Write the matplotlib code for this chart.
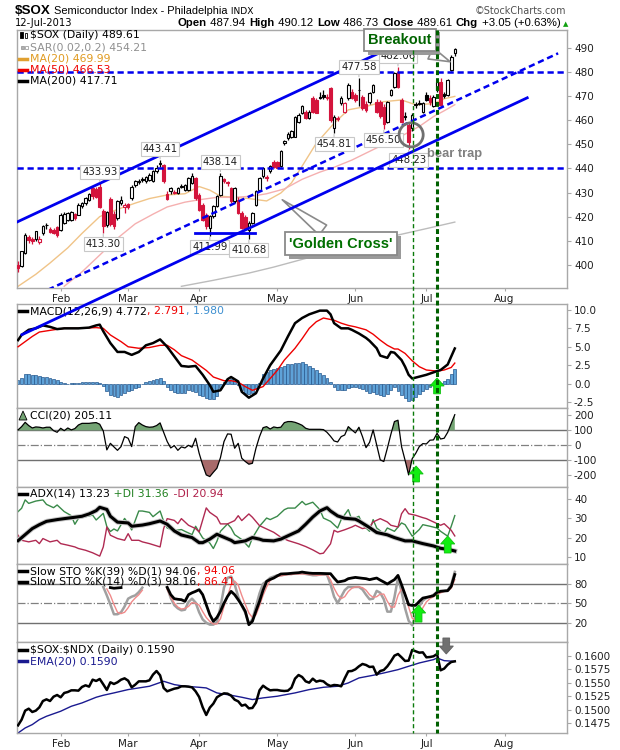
import numpy as np
import matplotlib
matplotlib.use("Agg")
import matplotlib.pyplot as plt
import matplotlib.transforms as mtransforms
import matplotlib.patheffects as pe
from matplotlib.patches import Ellipse, FancyArrow, Rectangle, Polygon
from matplotlib.lines import Line2D

plt.rcParams['font.family'] = ['DejaVu Sans']
nan = float('nan')

# ---------------- data (trading-day index 0 = 15-Jan-2013, 123 = 12-Jul-2013) ----------------
month_labels = ["Feb", "Mar", "Apr", "May", "Jun", "Jul", "Aug"]
month_days = [12, 31, 51, 73, 95, 115, 137]

opens = [400.0, 399.5, 405.0, 411.5, 410.8, 410.5, 409.5, 413.0, 416.3, 415.0,
         414.5, 415.5, 414.5, 417.5, 418.5, 418.5, 421.0, 420.8, 424.2, 425.6,
         427.0, 432.0, 431.5, 432.5, 422.2, 416.5, 427.5, 421.0, 419.4, 425.6,
         424.0, 425.2, 427.7, 433.2, 434.4, 435.5, 434.6, 435.3, 434.9, 438.8,
         442.0, 441.5, 429.5, 430.5, 430.2, 430.0, 432.3, 431.0, 431.2, 434.0,
         436.0, 429.0, 424.9, 420.8, 415.2, 420.1, 424.2, 429.0, 435.6, 434.2,
         431.9, 426.3, 427.0, 421.5, 420.0, 414.5, 417.3, 424.9, 431.2, 436.7,
         436.5, 438.8, 442.5, 442.5, 440.9, 450.5, 452.5, 453.0, 453.3, 459.5,
         463.0, 463.7, 461.0, 469.2, 468.5, 469.8, 470.5, 469.8, 473.4, 456.8,
         461.2, 467.1, 463.7, 469.2, 472.0, 470.6, 472.5, 469.9, 467.0, 467.8,
         472.0, 467.8, 467.8, 465.5, 459.5, 470.6, 474.0, 480.3, 468.5, 461.8,
         458.1, 456.8, 466.8, 467.3, 463.7, 470.5, 469.5, 465.8, 472.7, 476.1,
         470.8, 470.6, 481.0, 487.94]
highs = [401.5, 405.8, 413.0, 412.5, 411.5, 414.2, 412.0, 416.5, 417.2, 415.8,
         415.2, 416.0, 421.5, 421.8, 422.0, 422.2, 421.5, 425.5, 426.2, 428.2,
         429.8, 432.5, 432.2, 433.93, 423.0, 422.5, 428.0, 422.5, 426.8, 428.5,
         425.8, 425.8, 433.0, 435.2, 435.5, 436.5, 437.0, 438.0, 439.2, 441.5,
         443.41, 442.0, 430.5, 432.5, 431.0, 432.5, 433.5, 433.5, 436.5, 438.0,
         436.5, 430.0, 425.5, 421.5, 420.5, 424.8, 428.8, 438.14, 436.2, 435.0,
         432.5, 432.2, 428.0, 422.5, 420.8, 418.0, 422.0, 431.0, 436.5, 440.8,
         437.5, 441.5, 443.5, 443.2, 447.5, 451.8, 455.0, 456.0, 462.0, 463.0,
         466.5, 464.5, 464.2, 470.0, 469.5, 472.0, 472.5, 471.0, 474.0, 462.2,
         462.0, 470.0, 467.5, 475.5, 473.0, 471.5, 477.58, 470.5, 468.0, 471.8,
         475.2, 469.0, 468.5, 467.0, 468.2, 473.2, 480.0, 482.06, 469.5, 463.5,
         459.0, 463.0, 467.5, 468.5, 467.8, 472.0, 470.5, 470.5, 477.0, 477.6,
         472.0, 477.3, 487.0, 490.12]
lows = [397.0, 399.0, 404.5, 409.0, 408.8, 410.0, 408.5, 412.5, 415.0, 413.0,
        412.8, 411.5, 414.0, 417.0, 418.0, 418.0, 418.5, 420.5, 423.5, 425.0,
        426.5, 427.5, 427.8, 423.5, 413.3, 415.5, 416.0, 415.0, 418.5, 424.8,
        421.5, 423.2, 427.0, 432.5, 433.5, 434.5, 434.0, 434.8, 434.5, 438.0,
        440.5, 434.0, 427.0, 429.5, 429.2, 429.5, 431.8, 430.5, 430.8, 433.5,
        427.0, 422.5, 418.0, 415.0, 411.99, 419.5, 423.8, 428.5, 433.8, 432.8,
        425.8, 425.5, 421.0, 414.8, 414.5, 410.68, 417.0, 424.5, 430.8, 436.2,
        435.0, 438.2, 440.0, 440.2, 440.5, 449.8, 452.0, 452.5, 453.0, 459.0,
        462.5, 460.5, 460.5, 463.0, 463.0, 469.0, 469.0, 468.5, 459.5, 454.81,
        459.8, 466.5, 463.0, 468.5, 468.8, 467.8, 466.0, 464.5, 463.5, 467.0,
        471.5, 463.0, 461.0, 456.5, 459.0, 470.0, 473.5, 473.5, 459.0, 460.0,
        448.23, 455.5, 465.0, 466.5, 463.0, 468.0, 466.5, 465.5, 472.0, 465.8,
        469.5, 470.0, 480.5, 486.73]
closes = [398.8, 405.5, 412.5, 410.2, 409.8, 413.8, 410.8, 416.0, 416.5, 413.5,
          413.2, 412.5, 420.8, 421.0, 421.5, 421.8, 419.4, 425.0, 425.8, 427.7,
          429.2, 428.4, 428.0, 424.0, 415.9, 421.8, 417.0, 416.0, 426.3, 426.8,
          425.0, 424.0, 432.5, 434.6, 434.8, 435.3, 436.4, 437.4, 438.8, 440.2,
          442.2, 434.6, 427.5, 432.0, 430.0, 432.0, 432.5, 433.0, 436.0, 436.7,
          427.7, 422.9, 418.7, 415.9, 420.1, 424.2, 428.4, 436.9, 434.6, 433.9,
          426.3, 431.9, 421.5, 415.2, 414.8, 417.5, 421.5, 430.5, 436.0, 440.2,
          436.0, 440.9, 440.5, 440.4, 447.1, 451.5, 454.5, 455.5, 461.6, 462.3,
          465.8, 460.9, 463.7, 463.5, 463.2, 469.5, 469.6, 469.2, 460.2, 461.6,
          460.5, 469.2, 467.1, 474.8, 469.2, 468.5, 472.7, 465.1, 464.5, 471.3,
          474.8, 463.7, 462.0, 458.5, 467.8, 472.7, 479.6, 474.1, 459.5, 461.3,
          451.0, 462.3, 466.3, 466.8, 467.1, 468.5, 467.5, 469.9, 476.1, 466.5,
          470.1, 476.8, 486.56, 489.61]

ma20_days = [0, 5, 9, 14, 18, 23, 28, 33, 37, 42, 47, 51, 54, 57, 61, 65, 70, 74, 77, 80,
             84, 89, 93, 98, 103, 108, 112, 117, 120, 123]
ma20_vals = [391, 396, 400.7, 407, 413, 420, 423, 425.6, 427.5, 429, 429.5, 432.5, 431, 428.5,
             428.0, 427.5, 426.5, 429.8, 434, 441, 450.5, 458.8, 464.4, 465.8, 467.8, 468.5,
             466.5, 467, 469, 469.99]
ma50_days = [13, 18, 23, 28, 33, 38, 42, 47, 51, 56, 61, 66, 70, 75, 80, 85, 89, 94, 98, 103,
             108, 113, 117, 120, 123]
ma50_vals = [391, 397, 404, 411, 417, 421, 424, 426, 427, 428, 428.0, 428.5, 429.5, 431.5,
             435.5, 438.5, 440.5, 443.5, 446.4, 450, 453.5, 457.5, 461.6, 464, 466.53]
ma200_days = [46, 55, 65, 72, 80, 90, 100, 106, 115, 123]
ma200_vals = [391, 393.5, 396.5, 399, 402.2, 406, 410, 412, 415, 417.71]

# drawn trendlines (day, price) endpoints
upper_channel = [(-5.0, 414.5), (115.0, 497.2)]
lower_channel = [(1.1, 370.9), (143.4, 469.4)]
mid_channel = [(8.45, 389.6), (152.1, 487.9)]
support_line = [(49.9, 413.1), (66.8, 413.1)]
levels = [480, 440]
marker_days = [111.2, 118.1]

high_marks = [23, 40, 57, 96, 107]
low_marks = [24, 54, 65, 89, 103, 110]

macd_days = [0, 1, 3, 5, 7, 9, 11, 13, 15, 17, 20, 22, 23, 24, 26, 28, 30, 32, 34, 36,
             38, 40, 42, 44, 46, 48, 50, 52, 54, 55, 57, 59, 60, 62, 63, 65, 67, 69, 71, 74,
             76, 78, 80, 82, 85, 87, 88, 89, 91, 93, 94, 96, 98, 99, 101, 102, 104, 105, 106, 108,
             109, 110, 111, 113, 115, 118, 119, 121, 123]
macd_vals = [5.9, 6.6, 7.3, 7.5, 7.9, 7.7, 7.4, 7.5, 7.5, 7.5, 7.6, 7.9, 8.0, 7.1, 5.5, 4.3, 4.3, 3.9, 4.3, 5.2,
             5.5, 6.0, 5.0, 3.7, 2.4, 2.3, 2.4, 1.2, -0.2, -1.1, -0.9, 0.6, 0.9, 0.3, -1.1, -1.9, -1.3, 0.7, 2.5, 4.5,
             6.4, 8.2, 8.9, 9.4, 9.9, 9.9, 9.4, 8.2, 7.5, 7.5, 7.3, 6.8, 6.2, 5.8, 4.8, 3.8, 3.5, 4.3, 4.2, 3.2,
             2.3, 1.2, 0.7, 0.95, 1.2, 1.7, 1.85, 2.6, 4.772]
signal_days = [0, 2, 4, 6, 10, 13, 17, 22, 24, 26, 29, 31, 34, 37, 40, 42, 44, 46, 49, 51,
               53, 55, 58, 60, 62, 64, 66, 69, 71, 73, 75, 78, 80, 82, 84, 86, 89, 91, 93, 95,
               98, 100, 102, 104, 106, 107, 109, 111, 113, 115, 118, 120, 122, 123]
signal_vals = [5.0, 5.7, 6.4, 7.0, 7.3, 7.5, 7.5, 7.6, 7.5, 6.6, 5.7, 5.0, 4.8, 4.9, 5.2, 5.2, 4.6, 3.8, 3.2, 2.5,
               1.8, 0.9, 0.4, 0.4, 0.2, -0.4, -0.9, -0.4, 0.7, 1.8, 3.2, 4.8, 6.1, 7.5, 8.4, 8.9, 8.6, 8.2, 7.9, 7.7,
               7.3, 6.7, 5.9, 5.2, 4.7, 4.7, 4.1, 3.1, 2.3, 1.85, 1.7, 1.85, 2.2, 2.791]
macd_hist = [0.5, 0.8, 1.3, 1.25, 1.2, 1.15, 1.05, 0.95, 0.85, 0.7,
             0.6, 0.45, 0.25, 0.1, 0.0, 0.03, 0.08, 0.12, 0.17, 0.2,
             0.25, 0.27, 0.27, 0.1, -0.3, -1.0, -1.5, -1.65, -1.75, -1.55,
             -1.3, -1.05, -0.8, -0.6, -0.4, -0.05, 0.2, 0.33, 0.48, 0.62,
             0.72, 0.3, -0.5, -0.9, -1.1, -1.25, -1.3, -1.2, -0.9, -0.95,
             -1.1, -1.5, -1.7, -1.9, -2.05, -2.1, -1.7, -0.6, 0.25, 0.5,
             0.6, 0.4, -0.2, -0.8, -1.2, -1.45, -1.3, -0.65, 0.1, 1.3,
             1.6, 1.8, 2.0, 2.15, 2.25, 2.35, 2.6, 2.6, 2.75, 2.8,
             2.9, 2.6, 2.35, 2.1, 1.8, 1.5, 1.15, 0.75, 0.25, -0.5,
             -0.8, -0.85, -0.8, -0.65, -0.5, -0.42, -0.55, -0.7, -1.05, -1.25,
             -1.15, -1.35, -1.6, -1.65, -1.4, -0.8, -0.45, -1.05, -1.5, -1.95,
             -2.3, -2.2, -1.8, -1.4, -1.05, -0.75, -0.4, -0.12, 0.03, 0.15,
             0.3, 0.6, 1.3, 1.98]

cci = [103, 125, 154, 132, 116, 123, 121, 116, 121, 121,
       98, 87, 114, 98, 116, 103, 112, 136, 147, 147,
       147, 150, 152, 141, 96, -31, 13, -11, -34, -9,
       58, 47, -9, 125, 152, 136, 125, 121, 123, 132,
       150, 87, 25, -18, -2, -34, -11, -18, 0, -13,
       47, -54, -132, -199, -210, -181, -154, -83, 25, 76,
       74, -20, 13, -87, -109, -127, -121, -20, 58, 118,
       125, 109, 123, 118, 121, 152, 159, 159, 154, 145,
       134, 114, 107, 107, 107, 107, 105, 87, 60, 29,
       22, 58, 69, 125, 103, 83, 121, 58, -16, 20,
       103, 2, -98, -109, -20, 74, 159, 168, -9, -101,
       -199, -90, -54, -9, 11, 9, 34, 36, 80, 42,
       47, 87, 147, 205.11]

adx_days = [0, 2, 4, 6, 8, 11, 13, 16, 18, 20, 22, 23, 25, 26, 28, 31, 32, 35, 37, 40,
            42, 44, 46, 49, 51, 52, 54, 56, 57, 60, 61, 64, 66, 68, 69, 72, 74, 76, 79, 81,
            83, 85, 87, 88, 90, 92, 95, 96, 99, 101, 104, 106, 109, 111, 114, 117, 119, 121, 123]
adx_vals = [18.5, 21.6, 24.7, 26.7, 28.4, 29.3, 29.8, 30.5, 31.0, 32.2, 33.9, 35.6, 34.5, 31.0, 28.0, 27.6, 25.9, 26.5, 27.2, 28.6,
            26.9, 23.5, 21.4, 20.1, 17.5, 17.5, 19.3, 21.8, 21.0, 18.7, 17.5, 18.4, 20.1, 19.3, 18.7, 18.4, 19.3, 21.0, 23.5, 26.9,
            30.6, 33.7, 35.4, 33.7, 31.2, 30.0, 29.5, 28.6, 25.2, 22.7, 21.5, 20.1, 18.4, 18.4, 17.0, 15.8, 14.6, 14.1, 13.23]
pdi_days = [0, 1, 2, 3, 5, 7, 8, 10, 11, 13, 15, 16, 17, 19, 21, 22, 24, 25, 26, 27,
            28, 30, 31, 32, 34, 35, 37, 38, 40, 41, 42, 44, 46, 47, 49, 50, 52, 54, 55, 56,
            57, 59, 60, 61, 63, 65, 66, 68, 70, 71, 73, 75, 76, 78, 80, 81, 83, 85, 86, 88,
            90, 91, 93, 94, 96, 97, 99, 100, 101, 103, 104, 106, 108, 109, 111, 113, 114, 116, 118, 119,
            121, 122, 123]
pdi_vals = [33.4, 35.1, 39.4, 37.6, 38.8, 39.4, 37.1, 35.4, 36.8, 33.4, 31.3, 26.9, 29.9, 30.8, 31.6, 29.1, 32.5, 25.7, 23.2, 24.5,
            23.5, 29.9, 27.4, 24.0, 33.7, 33.7, 33.0, 30.8, 33.7, 28.4, 25.0, 23.7, 24.2, 23.3, 21.6, 25.9, 19.9, 17.3, 14.5, 18.2,
            23.3, 27.1, 25.0, 21.6, 19.1, 15.2, 19.9, 25.9, 30.1, 29.3, 31.0, 34.4, 35.2, 35.2, 38.6, 36.9, 38.2, 34.4, 30.1, 28.4,
            25.0, 29.3, 34.4, 29.3, 31.0, 26.7, 23.3, 29.3, 25.0, 22.1, 25.0, 23.3, 27.6, 26.7, 20.8, 24.2, 26.7, 25.9, 25.0, 23.3,
            20.8, 25.9, 31.36]
mdi_days = [0, 1, 3, 5, 6, 7, 9, 11, 12, 14, 16, 17, 19, 21, 23, 24, 25, 26, 28, 30,
            31, 32, 34, 35, 37, 40, 41, 42, 44, 45, 46, 48, 50, 51, 53, 54, 56, 57, 59, 61,
            62, 63, 65, 66, 68, 70, 72, 74, 76, 79, 81, 83, 85, 86, 88, 89, 90, 92, 94, 95,
            97, 99, 100, 102, 104, 105, 107, 108, 109, 110, 112, 114, 115, 117, 119, 120, 122, 123]
mdi_vals = [21.3, 18.7, 17.9, 18.7, 17.0, 19.6, 17.9, 18.7, 17.0, 16.2, 15.3, 14.5, 13.6, 12.3, 10.6, 15.3, 25.5, 21.3, 19.6, 18.7,
            22.1, 18.7, 18.7, 17.9, 17.0, 15.3, 24.7, 29.8, 28.9, 27.2, 29.8, 26.4, 24.7, 23.0, 35.3, 33.0, 30.5, 27.1, 27.1, 28.8,
            31.3, 28.8, 32.2, 30.5, 26.2, 24.5, 22.8, 20.3, 18.6, 16.9, 15.5, 13.8, 11.8, 12.1, 16.9, 23.8, 22.9, 24.1, 25.5, 26.4,
            24.7, 25.5, 28.1, 29.8, 28.1, 26.4, 25.5, 32.3, 34.9, 32.3, 31.5, 30.3, 29.8, 28.1, 26.4, 27.2, 23.8, 20.94]

# stochastics, nan where the line is hidden behind the legend
sto39 = ([nan] * 26 + [74, 73, 73.5, 74] + [nan] * 12 +
         [74.4, 63.1, 56.9, 56, 55.4, 52.8, 63.1, 66, 68.2, 70.8,
          63.1, 47.7, 32.3, 22.1, 28, 37.4, 50, 60.5, 68.2, 63.1,
          55.4, 47, 37.4, 16.9, 22.1, 38, 52.8, 70, 83.6, 86.5,
          88.7, 92, 94.9, 95.2, 95.4, 96, 96.5, 96.9, 97.9, 97,
          96.3, 95.9, 95.9, 95.9, 95.7, 95.5, 95.4, 88.7, 82.6, 83.5,
          84.6, 87.7, 88.8, 89.7, 89, 88.3, 87.7, 86.2, 87.5, 88.7,
          85.5, 82.6, 79.5, 83, 86.2, 92.8, 78.5, 63.1, 47.7, 46.5,
          46.7, 52.8, 57.9, 59.0, 60.2, 61.5, 66.7, 68.2, 68.8, 69.2,
          75.9, 94.06])
sto14k = ([nan] * 24 + [75, 62, 48, 33, 33, 36, 45, 57, 60, 62, 67, 74] + [nan] * 6 +
          [74, 58, 47, 42, 39, 40, 52, 57, 51, 36,
           25, 20, 17, 17, 21, 44, 74, 89, 91, 79,
           60, 46, 35, 19, 25, 45, 65, 80, 84, 89,
           91, 93, 93, 94, 95, 95, 96, 96, 96, 95,
           94, 93, 93, 94, 94, 94, 79, 60, 50, 60,
           70, 75, 75, 75, 75, 71, 63, 56, 57, 69,
           66, 56, 37, 37, 59, 89, 68, 42, 23, 16,
           31, 45, 54, 58, 60, 63, 67, 69, 69, 70,
           79, 98.16])
sto14d = ([nan] * 25 + [72, 62, 48, 36, 34, 36, 43, 52, 58, 63, 70] + [nan] * 6 +
          [71, 60, 50, 44, 41, 42, 45, 51, 50, 47,
           37, 28, 22, 18, 18, 26, 45, 61, 78, 84,
           78, 62, 48, 35, 28, 32, 46, 62, 75, 85,
           89, 91, 92, 93, 94, 94, 95, 95, 95, 95,
           94, 94, 93, 93, 94, 94, 86, 73, 63, 57,
           60, 68, 73, 75, 75, 74, 70, 63, 59, 60,
           64, 64, 53, 44, 44, 62, 72, 66, 44, 27,
           23, 31, 43, 52, 57, 60, 63, 66, 68, 69,
           73, 86.41])

ratio = [0.14706, 0.14812, 0.14980, 0.15017, 0.14955, 0.14980, 0.15042, 0.15160, 0.15191, 0.15160,
         0.15241, 0.15272, 0.15229, 0.15310, 0.15328, 0.15359, 0.15359, 0.15353, 0.15422, 0.15453,
         0.15428, 0.15558, 0.15534, 0.15571, 0.15471, 0.15366, 0.15509, 0.15478, 0.15509, 0.15558,
         0.15583, 0.15540, 0.15415, 0.15465, 0.15527, 0.15527, 0.15527, 0.15546, 0.15652, 0.15720,
         0.15639, 0.15403, 0.15341, 0.15366, 0.15390, 0.15403, 0.15434, 0.15434, 0.15428, 0.15415,
         0.15341, 0.15235, 0.15042, 0.14899, 0.15036, 0.15111, 0.15229, 0.15272, 0.15303, 0.15297,
         0.15260, 0.15185, 0.15154, 0.15073, 0.15092, 0.15023, 0.15030, 0.15129, 0.15359, 0.15446,
         0.15397, 0.15359, 0.15366, 0.15366, 0.15353, 0.15347, 0.15353, 0.15409, 0.15577, 0.15645,
         0.15608, 0.15527, 0.15502, 0.15577, 0.15521, 0.15540, 0.15527, 0.15471, 0.15440, 0.15459,
         0.15453, 0.15434, 0.15583, 0.15714, 0.15720, 0.15751, 0.15807, 0.15851, 0.15832, 0.15795,
         0.15801, 0.15652, 0.15720, 0.15739, 0.15807, 0.15900, 0.16006, 0.16037, 0.15975, 0.15907,
         0.15913, 0.16112, 0.16087, 0.16062, 0.16068, 0.15975, 0.15981, 0.15994, 0.16037, 0.15733,
         0.15764, 0.15838, 0.15888, 0.15900]
ema_days = [0, 2, 4, 6, 8, 12, 15, 18, 22, 24, 27, 31, 34, 37, 41, 44, 47, 51, 53, 56,
            60, 63, 66, 69, 73, 78, 82, 86, 90, 93, 96, 100, 103, 107, 110, 113, 117, 118, 120, 123]
ema_vals = [0.14563, 0.14657, 0.14720, 0.14813, 0.14875, 0.14969, 0.15062, 0.15124, 0.15230, 0.15267,
            0.15311, 0.15373, 0.15404, 0.15435, 0.15528, 0.15466, 0.15435, 0.15416, 0.15404, 0.15311,
            0.15267, 0.15230, 0.15187, 0.15218, 0.15249, 0.15311, 0.15373, 0.15416, 0.15435, 0.15497,
            0.15590, 0.15640, 0.15683, 0.15745, 0.15808, 0.15870, 0.15932, 0.15963, 0.15913, 0.15900]

# ---------------- figure ----------------
W, H = 620, 750
fig = plt.figure(figsize=(W / 100, H / 100), dpi=100)
fig.patch.set_facecolor('white')
PX = mtransforms.Affine2D().scale(1, -1).translate(0, H)   # pixels from top-left

BLUE = '#0000ee'
RED = '#d4143c'
GRID = '#a8a8a8'
TICK = 7.5
LEG = 7.8


def panel(top, bottom, ylim, yticks, fmt):
    ax = fig.add_axes([17 / W, 1 - bottom / H, 550 / W, (bottom - top) / H])
    ax.set_xlim(-0.3, 154.6)
    ax.set_ylim(*ylim)
    for s in ax.spines.values():
        s.set_color(GRID)
        s.set_linewidth(1)
    ax.yaxis.tick_right()
    ax.set_yticks(yticks)
    ax.set_yticklabels([fmt % v for v in yticks])
    ax.tick_params(axis='y', labelsize=TICK, length=3, color=GRID, pad=2, labelcolor='#202020')
    ax.set_xticks(month_days)
    ax.tick_params(axis='x', length=0, labelbottom=False)
    return ax


def months_on(ax):
    ax.set_xticklabels(month_labels)
    ax.tick_params(axis='x', labelbottom=True, labelsize=TICK, length=2, pad=2,
                   color=GRID, labelcolor='#202020')


def put(x, y, parts, size=LEG, ha='left', family=None):
    r = fig.canvas.get_renderer()
    made = []
    cur = x
    for p in parts:
        s, col, wt = p[:3]
        sz = p[3] if len(p) > 3 else size
        fam = p[4] if len(p) > 4 else family
        kw = dict(transform=PX, color=col, fontsize=sz, fontweight=wt,
                  va='center', ha='left', parse_math=False)
        if fam:
            kw['family'] = fam
        t = fig.text(cur, y, s, **kw)
        cur += t.get_window_extent(r).width + 0.6
        made.append(t)
    if ha == 'right':
        shift = cur - x
        for t in made:
            a, b = t.get_position()
            t.set_position((a - shift, b))


def dash(x, y, col, lw=2.5):
    fig.add_artist(Line2D([x, x + 8], [y, y], transform=PX, color=col, lw=lw))


def up_arrow(ax, day, y0, y1, col='#11ee11', ec='#10c010'):
    yr = ax.get_ylim()
    hpx = ax.get_window_extent().height
    upp = (yr[1] - yr[0]) / hpx
    arr = FancyArrow(day, y0, 0, y1 - y0, width=1.9, head_width=4.0,
                     head_length=abs(8 * upp), length_includes_head=True,
                     fc=col, ec=ec, lw=0.6, zorder=8, clip_on=False)
    ax.add_patch(arr)


# ---------------- price panel ----------------
axp = panel(30, 288, (390.3, 497.6), list(range(400, 491, 10)), '%d')
months_on(axp)
days = np.arange(len(closes))
cols, faces = [], []
for i in range(len(closes)):
    ref = closes[i - 1] if i > 0 else opens[i]
    c = RED if closes[i] < ref else 'black'
    cols.append(c)
    faces.append('white' if closes[i] >= opens[i] else c)
o = np.array(opens)
c_ = np.array(closes)
axp.vlines(days, lows, highs, colors=cols, lw=0.9, zorder=3)
axp.bar(days, np.maximum(np.abs(c_ - o), 0.3), bottom=np.minimum(o, c_), width=0.72,
        color=faces, edgecolor=cols, linewidth=0.8, zorder=4)

axp.plot(ma20_days, ma20_vals, color='#f0c488', lw=1.0, zorder=2)
axp.plot(ma50_days, ma50_vals, color='#f5b0b0', lw=1.0, zorder=2)
axp.plot(ma200_days, ma200_vals, color='#bcbcbc', lw=1.0, zorder=2)

for lv in levels:
    axp.axhline(lv, color=BLUE, lw=1.8, ls=(0, (2.5, 1.5)), zorder=5)
axp.plot(*zip(*upper_channel), color=BLUE, lw=2.0, zorder=5)
axp.plot(*zip(*mid_channel), color=BLUE, lw=1.8, ls=(0, (2.5, 1.5)), zorder=5)
axp.plot(*zip(*support_line), color=BLUE, lw=2.0, zorder=5)
fig.add_artist(Line2D(*zip(*lower_channel), transform=axp.transData, color=BLUE, lw=2.0, zorder=6))

# peak / trough labels
for d in high_marks:
    axp.annotate('%.2f' % highs[d], xy=(d, highs[d]), xytext=(0, 8), textcoords='offset points',
                 ha='center', va='center', fontsize=7.3, color='#202020', zorder=7,
                 bbox=dict(boxstyle='square,pad=0.18', fc='white', ec='#c8c8c8', lw=0.8),
                 arrowprops=dict(arrowstyle='-', color='#c0c0c0', lw=0.8, shrinkA=0, shrinkB=1))
for d in low_marks:
    axp.annotate('%.2f' % lows[d], xy=(d, lows[d]), xytext=(0, -8), textcoords='offset points',
                 ha='center', va='center', fontsize=7.3, color='#202020', zorder=7,
                 bbox=dict(boxstyle='square,pad=0.18', fc='white', ec='#c8c8c8', lw=0.8),
                 arrowprops=dict(arrowstyle='-', color='#c0c0c0', lw=0.8, shrinkA=0, shrinkB=1))

# callouts
shadow = [pe.withSimplePatchShadow(offset=(2.5, -2.5), shadow_rgbFace='#9a9a9a', alpha=1.0)]
t1 = axp.annotate('Breakout', xy=(121.7, 484.4), xytext=(107.6, 493.4), ha='center', va='center',
                  fontsize=10.5, fontweight='bold', color='#006400', family='Liberation Sans', zorder=9,
                  bbox=dict(boxstyle='square,pad=0.3', fc='white', ec='#8a8a8a', lw=1.3),
                  arrowprops=dict(arrowstyle='wedge,tail_width=0.45', fc='white', ec='#8a8a8a',
                                  lw=1.2, mutation_scale=20, shrinkB=0))
t1.get_bbox_patch().set_path_effects(shadow)
t2 = axp.annotate("'Golden Cross'", xy=(74.4, 427.0), xytext=(91.0, 408.7), ha='center', va='center',
                  fontsize=10.5, fontweight='bold', color='#007000', family='Liberation Sans', zorder=9,
                  bbox=dict(boxstyle='square,pad=0.3', fc='white', ec='#8a8a8a', lw=1.3),
                  arrowprops=dict(arrowstyle='wedge,tail_width=0.45', fc='white', ec='#8a8a8a',
                                  lw=1.2, mutation_scale=20, shrinkB=0))
t2.get_bbox_patch().set_path_effects(shadow)
axp.add_patch(Ellipse((110.7, 454.0), 6.8, 10.0, fill=False, ec='#707070', lw=2.0, zorder=8))
axp.text(122.9, 446.0, 'bear trap', ha='center', va='center', fontsize=9.3, fontweight='bold',
         color='#808080', family='Liberation Sans', zorder=8)

# price legend
fig.add_artist(Rectangle((20, 32), 2.5, 6, transform=PX, fc='black', ec='black', lw=0.6))
fig.add_artist(Rectangle((24.5, 33), 2.5, 5, transform=PX, fc='white', ec='black', lw=0.6))
put(30, 35.5, [('$SOX (Daily) 489.61', 'black', 'normal')])
fig.add_artist(Rectangle((21, 46), 3, 3, transform=PX, fc='#b0b0b0', ec='#909090', lw=0.5))
fig.add_artist(Rectangle((25, 46), 3, 3, transform=PX, fc='white', ec='#909090', lw=0.5))
put(30, 47.5, [('SAR(0.02,0.2) 454.21', '#909090', 'normal')])
dash(19, 58.5, '#e0a030')
put(30, 58.5, [('MA(20) 469.99', '#e09a20', 'normal')])
dash(19, 69.5, '#ee0000')
put(30, 69.5, [('MA(50) 466.53', '#ee0000', 'normal')])
dash(19, 80.5, 'black')
put(30, 80.5, [('MA(200) 417.71', 'black', 'normal')])

# ---------------- MACD ----------------
axm = panel(304, 408, (-3.3, 10.8), [-2.5, 0.0, 2.5, 5.0, 7.5, 10.0], '%.1f')
axm.bar(days, macd_hist, width=0.8, color='#5ea2d8', edgecolor='#25588e', linewidth=0.5, zorder=2)
axm.plot(signal_days, signal_vals, color='#ee0000', lw=1.0, zorder=3)
axm.plot(macd_days, macd_vals, color='black', lw=1.8, zorder=4)
dash(19, 311, 'black')
put(30, 311, [('MACD(12,26,9) 4.772', 'black', 'normal'), (', 2.791', '#ee0000', 'normal'),
              (', 1.980', '#3d8fd0', 'normal')])

# ---------------- CCI ----------------
axc = panel(408, 487, (-280, 250), [-200, -100, 0, 100, 200], '%d')
cc = np.array(cci, dtype=float)
axc.fill_between(days, cc, 100, where=cc >= 100, interpolate=True, color='#74a474', lw=0, zorder=2)
axc.fill_between(days, cc, -100, where=cc <= -100, interpolate=True, color='#a86a6a', lw=0, zorder=2)
for lv in (100, -100):
    axc.axhline(lv, color='#707070', lw=1.0, zorder=1)
axc.axhline(0, color='#808080', lw=0.9, ls='-.', zorder=1)
axc.plot(days, cc, color='black', lw=0.9, zorder=3)
fig.add_artist(Polygon([(19, 420), (23, 411), (27, 420)], closed=True, transform=PX,
                       fc='#74a474', ec='black', lw=0.6))
put(30, 416, [('CCI(20) 205.11', 'black', 'normal')])

# ---------------- ADX ----------------
axa = panel(487, 564, (6.56, 46.0), [10, 20, 30, 40], '%d')
axa.plot(pdi_days, pdi_vals, color='#3a8a4a', lw=1.0, zorder=2)
axa.plot(mdi_days, mdi_vals, color='#b02a52', lw=1.0, zorder=2)
axa.plot(adx_days, adx_vals, color='black', lw=2.2, zorder=3,
         path_effects=[pe.Stroke(linewidth=3.6, foreground='#c8c8c8'), pe.Normal()])
dash(19, 494, 'black')
put(30, 494, [('ADX(14) 13.23', 'black', 'normal'), (' +DI 31.36', '#208020', 'normal'),
              (' -DI 20.94', '#b0204a', 'normal')])

# ---------------- Slow stochastics ----------------
axs = panel(564, 642, (-9.7, 110.3), [20, 50, 80], '%d')
for lv in (80, 20):
    axs.axhline(lv, color='#707070', lw=1.0, zorder=1)
axs.axhline(50, color='#808080', lw=0.9, ls='-.', zorder=1)
axs.plot(days, sto14k, color='#a0a0a0', lw=1.8, zorder=2)
axs.plot(days, sto14d, color='#f08a8a', lw=1.0, zorder=3)
axs.plot(days, sto39, color='black', lw=2.0, zorder=4)
dash(19, 571, 'black')
put(30, 571, [('Slow STO %K(39) %D(1) 94.06', 'black', 'normal'), (', 94.06', '#ee0000', 'normal')])
dash(19, 582, 'black')
put(30, 582, [('Slow STO %K(14) %D(3) 98.16', 'black', 'normal'), (', 86.41', '#ee0000', 'normal')])

# ---------------- $SOX:$NDX ----------------
axr = panel(642, 733, (0.14563, 0.16261), [0.1475, 0.1500, 0.1525, 0.1550, 0.1575, 0.1600], '%.4f')
months_on(axr)
axr.plot(ema_days, ema_vals, color='#1a1a90', lw=1.0, zorder=2)
axr.plot(days, ratio, color='black', lw=1.8, zorder=3)
dash(19, 650, 'black')
put(30, 650, [('$SOX:$NDX (Daily) 0.1590', 'black', 'normal')])
dash(19, 661, '#1a1a90')
put(30, 661, [('EMA(20) 0.1590', '#1a1a90', 'normal')])

# ---------------- signal markers ----------------
vt = mtransforms.blended_transform_factory(axp.transData, PX)
fig.add_artist(Line2D([marker_days[0]] * 2, [50, 733], transform=vt, color='#0a7a0a',
                      lw=1.0, ls=(0, (3, 2)), zorder=7))
fig.add_artist(Line2D([marker_days[1]] * 2, [30, 733], transform=vt, color='#006000',
                      lw=2.2, ls=(0, (1.6, 1.0)), zorder=7))
up_arrow(axm, 118.0, -1.38, 0.77)
up_arrow(axc, 112.1, -246, -139)
up_arrow(axa, 121.0, 12.2, 20.9)
up_arrow(axs, 112.8, 21, 47.2)
up_arrow(axr, 120.6, 0.16336, 0.16037, col='#707070', ec='#606060')

# ---------------- header ----------------
put(15, 11, [('$SOX', 'black', 'bold', 9.6, 'Liberation Sans'),
             (' Semiconductor Index - Philadelphia', 'black', 'normal', 7.9, 'Liberation Sans'),
             (' INDX', 'black', 'normal', 6.6, 'DejaVu Sans')])
put(567, 11, [('\u00a9StockCharts.com', '#505050', 'normal')], size=6.9, ha='right')
put(15, 23.5, [('12-Jul-2013', 'black', 'normal')], size=7.1)
put(561, 23.5, [('Open', 'black', 'bold'), (' 487.94 ', 'black', 'normal'),
                ('High', 'black', 'bold'), (' 490.12 ', 'black', 'normal'),
                ('Low', 'black', 'bold'), (' 486.73 ', 'black', 'normal'),
                ('Close', 'black', 'bold'), (' 489.61 ', 'black', 'normal'),
                ('Chg', 'black', 'bold'), (' +3.05 (+0.63%)', 'black', 'normal')],
    size=8.2, ha='right', family='Liberation Sans')
fig.text(563, 24, '\u25b2', transform=PX, color='#10a010', fontsize=5, va='center', ha='left')

fig.savefig('out.png', dpi=100, facecolor='white')
